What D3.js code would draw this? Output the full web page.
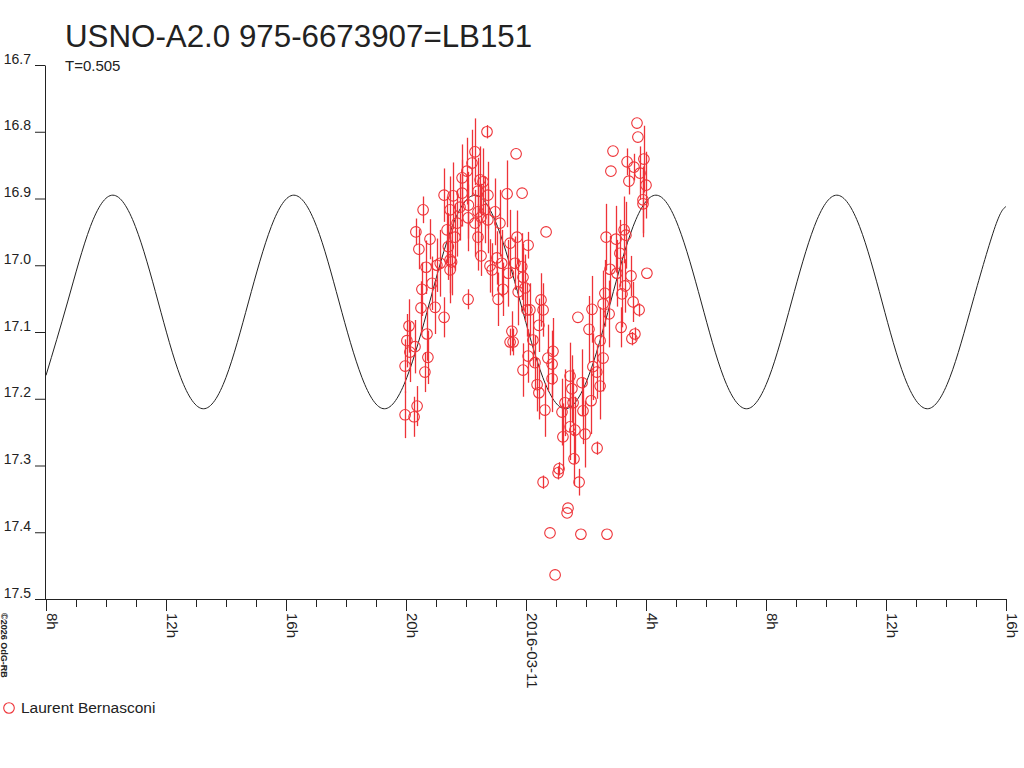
<!DOCTYPE html>
<html><head><meta charset="utf-8">
<script src="https://cdn.jsdelivr.net/npm/d3@7"></script>
<style>
body{margin:0;background:#fff}
svg{display:block}
text{font-family:"Liberation Sans",Arial,sans-serif;fill:#222}
</style>
</head><body>
<svg id="chart" width="1024" height="768"></svg>
<script>
// ---- texts ----
const titleText = "USNO-A2.0 975-6673907=LB151";
const periodText = "T=0.505";
const observerName = "Laurent Bernasconi";
const copyrightText = "©2026 OdG-RB";

// ---- axes ----
const yTickValues = [16.7, 16.8, 16.9, 17.0, 17.1, 17.2, 17.3, 17.4, 17.5];
const xMajorHours = [-16, -12, -8, -4, 0, 4, 8, 12, 16];   // hours from 2016-03-11 00:00 UT
const xMajorLabels = ["8h", "12h", "16h", "20h", "2016-03-11", "4h", "8h", "12h", "16h"];

// ---- observations (hours from 2016-03-11 00:00, magnitude, error) ----
const obsHours = [-4.03,-3.73,-3.63,-4.03,-3.87,-3.90,-3.70,-3.97,-3.37,-3.27,-3.30,-3.50,-3.47,-3.33,-3.57,-3.67,-3.43,-3.20,-3.13,-3.03,
 -2.73,-2.97,-2.86,-2.48,-2.63,-2.73,-2.43,-2.53,-2.53,-2.37,-2.30,-2.20,-2.13,-2.13,-1.97,-1.80,-1.70,-1.93,-1.93,-1.60,
 -1.60,-1.53,-1.43,-1.60,-1.50,-1.50,-1.30,-1.27,-1.27,-1.20,-1.13,-0.97,-0.93,-0.87,-0.77,-0.63,-0.53,-0.33,-0.30,-0.37,
 -0.13,-0.47,-0.53,-0.43,0.07,0.03,0.07,-0.10,-0.10,-0.03,0.13,0.30,0.37,0.43,0.43,0.23,0.50,0.57,0.67,0.63,
 0.73,0.90,0.87,0.87,0.57,1.10,1.07,0.80,0.97,1.20,1.23,1.30,1.47,1.53,1.57,1.47,1.63,1.60,1.40,1.37,
 1.77,1.73,1.87,1.90,1.97,1.83,2.10,2.20,2.17,2.37,2.23,2.36,2.47,2.47,2.57,2.57,2.63,2.70,2.67,2.77,
 2.80,2.83,2.90,3.00,3.03,3.13,3.17,3.20,3.27,3.33,3.30,3.37,3.43,3.50,3.57,3.63,3.53,3.60,3.70,3.73,
 3.77,3.80,3.93,4.00,3.90,3.90,4.03,-1.92,-1.37,-1.03,-1.70,-2.59,-2.53,-0.81,-0.59,-0.14,-0.26];
const obsMags = [17.224,17.227,17.211,17.151,17.130,17.091,17.122,17.113,17.160,17.138,17.103,17.064,17.036,17.003,16.976,16.950,16.917,16.961,17.027,17.063,
 17.078,17.000,16.997,16.995,16.947,16.895,16.896,16.917,16.992,16.958,16.937,16.913,16.892,16.869,16.859,16.847,16.830,16.929,17.051,16.920,
 16.958,16.872,16.875,16.889,16.928,16.986,16.800,16.895,16.932,17.001,17.007,16.989,17.051,16.937,17.036,16.893,16.967,16.833,16.958,16.997,
 16.892,17.099,17.115,17.115,16.970,17.067,17.136,17.157,17.018,17.034,17.067,17.146,17.179,17.191,17.090,17.112,17.052,17.067,16.950,17.217,
 17.139,17.129,17.148,17.170,17.325,17.305,17.311,17.401,17.464,17.220,17.257,17.206,17.166,17.185,17.206,17.242,17.247,17.290,17.364,17.371,
 17.325,17.078,17.176,17.218,17.253,17.403,17.096,17.066,17.203,17.274,17.152,17.160,17.113,17.181,17.139,17.058,17.042,17.403,16.958,17.073,
 17.006,16.859,16.829,16.961,17.012,16.982,17.093,17.043,16.947,16.955,17.031,16.845,16.874,17.016,17.055,17.103,17.110,16.853,16.787,16.808,
 17.067,16.862,16.841,16.880,16.902,16.908,17.012,16.910,16.917,16.920,16.937,16.972,17.007,16.997,17.012,17.002,17.040];
const obsErrs = [0.035,0.03,0.03,0.04,0.045,0.04,0.04,0.04,0.03,0.04,0.04,0.04,0.04,0.04,0.03,0.02,0.02,0.03,0.04,0.04,
 0.03,0.04,0.05,0.05,0.05,0.04,0.05,0.05,0.05,0.05,0.05,0.05,0.05,0.05,0.05,0.05,0.05,0.05,0.015,0.05,
 0.05,0.05,0.05,0.05,0.05,0.03,0.01,0.05,0.05,0.04,0.04,0.04,0.04,0.05,0.04,0.05,0.05,0,0.04,0.04,
 0,0.03,0.02,0.02,0.02,0.04,0.04,0.04,0.05,0.05,0.04,0.04,0.04,0.04,0.04,0.04,0.04,0.04,0,0.04,
 0.05,0.05,0.05,0.05,0.01,0.01,0.01,0,0,0.05,0.05,0.05,0.05,0.05,0.05,0.05,0.05,0.04,0,0,
 0.02,0,0.05,0.05,0.05,0,0.05,0.05,0.05,0.01,0.05,0.04,0.05,0.05,0.05,0.05,0.05,0,0.05,0.05,
 0.05,0,0,0.05,0.05,0.05,0.03,0.05,0.05,0.05,0.04,0.02,0.02,0.03,0.03,0.01,0.01,0.02,0,0,
 0.01,0.04,0.05,0.05,0.05,0.05,0,0.05,0.05,0.05,0.05,0.05,0.05,0.05,0.05,0.05,0.05];

// ---- fitted light curve ----
const fitHours = [-16.00,-15.28,-14.52,-13.77,-13.02,-12.26,-11.51,-10.75,-10.00,-9.25,-8.49,-7.74,-6.98,-6.23,-5.47,-4.72,-3.97,-3.21,-2.46,-1.70,
 -0.95,-0.19,0.56,1.31,2.07,2.82,3.57,4.33,5.08,5.84,6.59,7.35,8.10,8.85,9.61,10.36,11.12,11.87,12.62,13.38,14.13,14.89,15.64,16.00];
const fitMags = [17.165,17.055,16.942,
 16.895,16.942,17.055,17.168,17.215,17.168,17.055,16.942,
 16.895,16.942,17.055,17.168,17.215,17.168,17.055,16.942,
 16.895,16.942,17.055,17.168,17.215,17.168,17.055,16.942,
 16.895,16.942,17.055,17.168,17.215,17.168,17.055,16.942,
 16.895,16.942,17.055,17.168,17.215,17.168,17.055,16.942,
 16.912];

// ---- drawing ----
const svg = d3.select("#chart");
const red = "#ee3338";
const ink = "#222";
const t0 = Date.UTC(2016, 2, 11);
const toDate = h => new Date(t0 + h * 3600000);

const x = d3.scaleUtc().domain([toDate(-16), toDate(16)]).range([46, 1006]);
const y = d3.scaleLinear().domain([16.7, 17.5]).range([65, 599]);

// title
svg.append("text").attr("x", 65).attr("y", 47).style("font-size", "31.3px").text(titleText);
svg.append("text").attr("x", 65).attr("y", 71).style("font-size", "15px").text(periodText);

// minor x ticks
const minorAxis = d3.axisBottom(x).ticks(d3.utcHour.every(1)).tickSize(8).tickSizeOuter(0).tickFormat("");
const gMinor = svg.append("g").attr("transform", "translate(0,599)").call(minorAxis);
gMinor.select(".domain").remove();
gMinor.selectAll("line").attr("stroke", ink);

// major x axis
const xAxis = d3.axisBottom(x).tickValues(xMajorHours.map(toDate)).tickSize(12).tickSizeOuter(0)
  .tickFormat((d, i) => xMajorLabels[i]);
const gx = svg.append("g").attr("transform", "translate(0,599)").call(xAxis);
gx.attr("font-family", null).attr("font-size", null);
gx.select(".domain").attr("stroke", ink).attr("d", "M45,0.5H1007");
gx.selectAll("line").attr("stroke", ink);
gx.selectAll("text")
  .attr("transform", "rotate(90)")
  .attr("x", 14).attr("y", 0).attr("dy", 0)
  .style("text-anchor", "start")
  .style("font-size", "15px")
  .attr("fill", ink);

// y axis
const yAxis = d3.axisLeft(y).tickValues(yTickValues).tickSize(10).tickSizeOuter(0).tickFormat(d3.format(".1f"));
const gy = svg.append("g").attr("transform", "translate(45,0)").call(yAxis);
gy.attr("font-family", null).attr("font-size", null);
gy.select(".domain").attr("stroke", ink);
gy.selectAll("line").attr("stroke", ink);
gy.selectAll("text").attr("x", -14).attr("dy", -2).style("font-size", "14px").attr("fill", ink);

// fit curve
const fit = fitHours.map((h, i) => ({h, m: fitMags[i]}));
svg.append("path").datum(fit)
  .attr("fill", "none").attr("stroke", ink).attr("stroke-width", 1)
  .attr("d", d3.line().x(d => x(toDate(d.h))).y(d => y(d.m)).curve(d3.curveNatural));

// observations
const obs = obsHours.map((h, i) => ({h, m: obsMags[i], e: obsErrs[i]}));
svg.append("g").selectAll("line").data(obs.filter(d => d.e > 0)).join("line")
  .attr("x1", d => Math.round(x(toDate(d.h))) + 0.5).attr("x2", d => Math.round(x(toDate(d.h))) + 0.5)
  .attr("y1", d => y(d.m - d.e)).attr("y2", d => y(d.m + d.e))
  .attr("stroke", red).attr("stroke-width", 1.3);
svg.append("g").selectAll("circle").data(obs).join("circle")
  .attr("cx", d => x(toDate(d.h))).attr("cy", d => y(d.m)).attr("r", 5.3)
  .attr("fill", "none").attr("stroke", red).attr("stroke-width", 1.1);

// legend
svg.append("circle").attr("cx", 9).attr("cy", 708).attr("r", 5.3)
  .attr("fill", "none").attr("stroke", red).attr("stroke-width", 1.1);
svg.append("text").attr("x", 21).attr("y", 713).style("font-size", "15.5px").text(observerName);

// copyright
svg.append("text").attr("transform", "translate(1,613) rotate(90)")
  .style("font-size", "9px").style("font-weight", "bold").text(copyrightText);
</script>
</body></html>
